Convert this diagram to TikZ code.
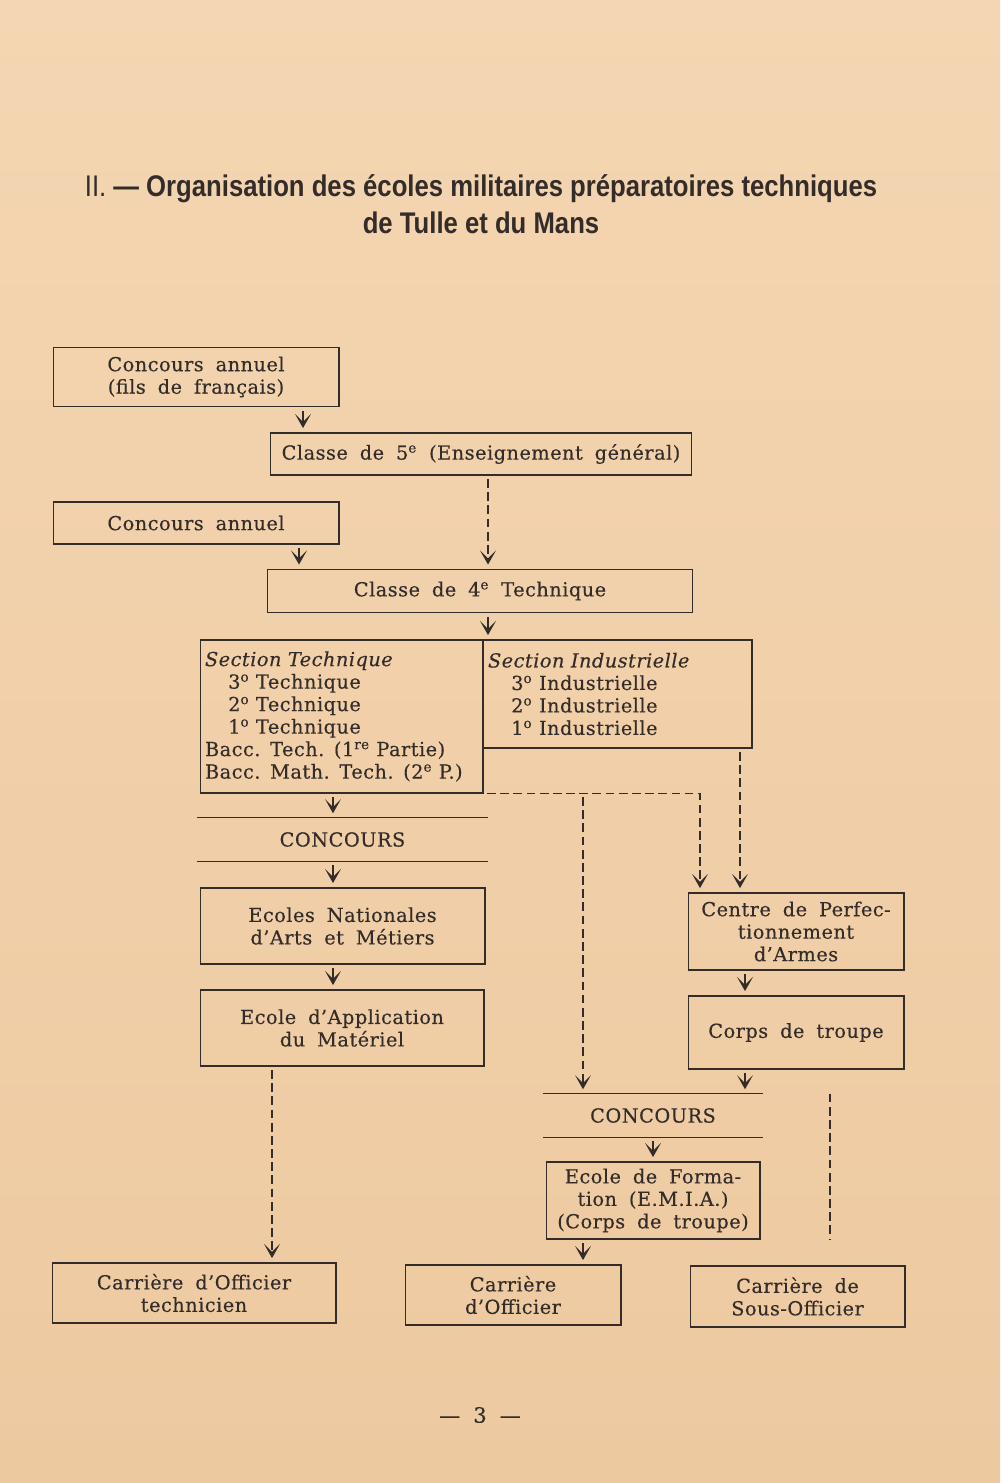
\documentclass[tikz,border=0pt]{standalone}
\usepackage{fontspec}
\setmainfont{DejaVu Serif}[WordSpace=1.8,LetterSpace=2.5,FakeBold=0.3]
\newfontfamily\titlefont[FakeStretch=0.86]{Liberation Sans}
\usetikzlibrary{arrows.meta}
\usepackage{xcolor}
\definecolor{papertop}{HTML}{F4D6B2}
\definecolor{paperbot}{HTML}{EDC9A0}
\definecolor{ink}{HTML}{332C29}

\tikzset{
  txt/.style={text=ink,font=\fontsize{11}{12.8}\selectfont},
  box/.style={txt,draw=ink,line width=0.6pt,align=center,inner sep=2pt},
  section/.style={box,align=left,inner xsep=0.1cm,text width=#1},
  concours/.style={txt,minimum height=0.86cm},
  rule/.style={ink,line width=0.6pt},
  arr/.style={ink,line width=1pt,-{Stealth[length=8pt,width=9pt,inset=4.5pt]},
    shorten <=2pt,shorten >=2.5pt},
  dline/.style={dash pattern=on 5pt off 2.5pt,line width=0.6pt}
}

\begin{document}
\begin{tikzpicture}[x=0.02cm,y=-0.02cm]
  % Paper
  \shade[top color=papertop,bottom color=paperbot] (0,0) rectangle (1000,1483);
  % Title
  \node[text=ink,align=center,font=\titlefont\fontsize{17}{21}\selectfont] (title) at (481,204)
    {II. \textbf{— Organisation des écoles militaires préparatoires techniques}\\
     \textbf{de Tulle et du Mans}};
  % Entry
  \node[box,minimum width=5.72cm,minimum height=1.18cm] (fils) at (196,377)
    {Concours annuel\\(fils de français)};
  \node[box,minimum width=8.44cm,minimum height=0.84cm] (cinq) at (481,454)
    {Classe de 5\textsuperscript{e} (Enseignement général)};
  \node[box,minimum width=5.72cm,minimum height=0.84cm] (annuel) at (196,523)
    {Concours annuel};
  \node[box,minimum width=8.52cm,minimum height=0.86cm] (quatre) at (480,591)
    {Classe de 4\textsuperscript{e} Technique};
  % Sections
  \node[section=5.46cm,minimum height=3.06cm] (sectech) at (341.5,716.5)
    {\textit{Section Technique}\\
     \hspace*{1.2em}3\textsuperscript{o} Technique\\
     \hspace*{1.2em}2\textsuperscript{o} Technique\\
     \hspace*{1.2em}1\textsuperscript{o} Technique\\
     \mbox{Bacc. Tech. (1\textsuperscript{re} Partie)}\\
     \mbox{Bacc. Math. Tech. (2\textsuperscript{e} P.)}};
  \node[section=5.18cm,minimum height=2.16cm] (secind) at (617.5,694)
    {\textit{Section Industrielle}\\
     \hspace*{1.2em}3\textsuperscript{o} Industrielle\\
     \hspace*{1.2em}2\textsuperscript{o} Industrielle\\
     \hspace*{1.2em}1\textsuperscript{o} Industrielle};
  % Technique branch
  \node[concours,minimum width=5.82cm] (concA) at (342.5,839.5) {CONCOURS};
  \draw[rule] (concA.north west) -- (concA.north east) (concA.south west) -- (concA.south east);
  \node[box,minimum width=5.7cm,minimum height=1.52cm] (enam) at (342.5,926)
    {Ecoles Nationales\\d’Arts et Métiers};
  \node[box,minimum width=5.68cm,minimum height=1.52cm] (eam) at (342,1028)
    {Ecole d’Application\\du Matériel};
  % Right branch
  \node[box,minimum width=4.32cm,minimum height=1.54cm] (cpa) at (796,931.5)
    {Centre de Perfec-\\tionnement\\d’Armes};
  \node[box,minimum width=4.32cm,minimum height=1.46cm] (corps) at (796,1032.5)
    {Corps de troupe};
  \node[concours,minimum width=4.4cm] (concB) at (653,1115.5) {CONCOURS};
  \draw[rule] (concB.north west) -- (concB.north east) (concB.south west) -- (concB.south east);
  \node[box,minimum width=4.28cm,minimum height=1.54cm] (emia) at (653,1200.5)
    {Ecole de Forma-\\tion (E.M.I.A.)\\(Corps de troupe)};
  % Careers
  \node[box,minimum width=5.68cm,minimum height=1.2cm] (offtech) at (194,1293)
    {Carrière d’Officier\\technicien};
  \node[box,minimum width=4.32cm,minimum height=1.2cm] (off) at (513,1295)
    {Carrière\\d’Officier};
  \node[box,minimum width=4.3cm,minimum height=1.22cm] (sousoff) at (797.5,1296.5)
    {Carrière de\\Sous-Officier};
  % Arrow columns
  \coordinate (xa) at (303,0);
  \coordinate (xb) at (299,0);
  \coordinate (xm) at (488,0);
  \coordinate (xt) at (333,0);
  \coordinate (xo) at (272,0);
  \coordinate (xc) at (583,0);
  \coordinate (xp) at (700,0);
  \coordinate (xi) at (740,0);
  \coordinate (xr) at (745,0);
  \coordinate (xe) at (653,0);
  \coordinate (xs) at (830,0);
  % Arrows
  \draw[arr] (fils.south -| xa) -- (cinq.north -| xa);
  \draw[arr,dline] (cinq.south -| xm) -- (quatre.north -| xm);
  \draw[arr] (annuel.south -| xb) -- (quatre.north -| xb);
  \draw[arr] (quatre.south -| xm) -- (sectech.north -| xm);
  \draw[arr] (sectech.south -| xt) -- (concA.north -| xt);
  \draw[arr] (concA.south -| xt) -- (enam.north -| xt);
  \draw[arr] (enam.south -| xt) -- (eam.north -| xt);
  \draw[arr,dline] (eam.south -| xo) -- (offtech.north -| xo);
  \draw[arr,dline] (sectech.south east) -| (cpa.north -| xp);
  \draw[arr,dline] (sectech.south -| xc) -- (concB.north -| xc);
  \draw[arr,dline] (secind.south -| xi) -- (cpa.north -| xi);
  \draw[arr] (cpa.south -| xr) -- (corps.north -| xr);
  \draw[arr] (corps.south -| xr) -- (concB.north -| xr);
  \draw[arr] (concB.south -| xe) -- (emia.north -| xe);
  \draw[arr] (emia.south -| xc) -- (off.north -| xc);
  \draw[ink,dline,shorten >=0.52cm] (concB.north -| xs) -- (sousoff.north -| xs);
  % Page number
  \node[txt,font=\fontsize{12}{14}\selectfont] (page) at (480,1415) {— 3 —};
\end{tikzpicture}
\end{document}
